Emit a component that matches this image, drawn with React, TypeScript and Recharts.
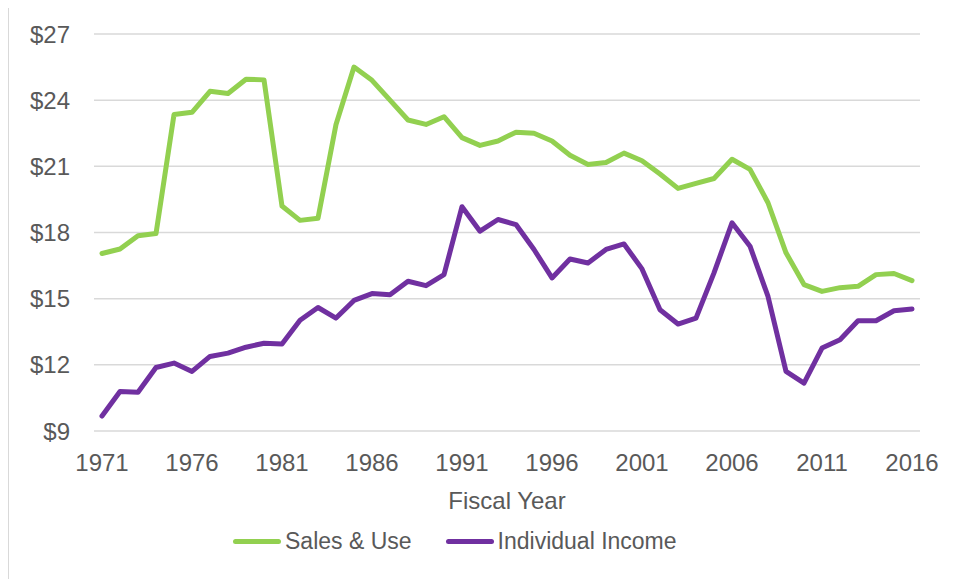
import React from 'react';
import { LineChart, Line, XAxis, YAxis, CartesianGrid, Legend } from 'recharts';

const years = [
  1971, 1972, 1973, 1974, 1975, 1976, 1977, 1978, 1979, 1980,
  1981, 1982, 1983, 1984, 1985, 1986, 1987, 1988, 1989, 1990,
  1991, 1992, 1993, 1994, 1995, 1996, 1997, 1998, 1999, 2000,
  2001, 2002, 2003, 2004, 2005, 2006, 2007, 2008, 2009, 2010,
  2011, 2012, 2013, 2014, 2015, 2016,
];

const salesUse = [
  17.05, 17.25, 17.85, 17.95, 23.35, 23.45, 24.4, 24.3, 24.95, 24.92,
  19.2, 18.55, 18.65, 22.9, 25.5, 24.9, 24.0, 23.1, 22.9, 23.25,
  22.3, 21.95, 22.15, 22.55, 22.5, 22.15, 21.5, 21.08, 21.17, 21.6,
  21.25, 20.65, 20.0, 20.23, 20.45, 21.32, 20.86, 19.35, 17.08, 15.64,
  15.33, 15.5, 15.56, 16.09, 16.14, 15.82,
];

const individualIncome = [
  9.68, 10.79, 10.76, 11.88, 12.08, 11.7, 12.38, 12.53, 12.8, 12.98,
  12.94, 14.02, 14.6, 14.12, 14.92, 15.23, 15.18, 15.79, 15.59, 16.09,
  19.17, 18.06, 18.59, 18.36, 17.23, 15.94, 16.8, 16.62, 17.23, 17.48,
  16.35, 14.5, 13.85, 14.12, 16.17, 18.44, 17.38, 15.1, 11.7, 11.17,
  12.76, 13.14, 14.0, 14.0, 14.45, 14.53,
];

const seriesNames = ['Sales & Use', 'Individual Income'];
const yTicks = [9, 12, 15, 18, 21, 24, 27];

const data = years.map((year, i) => ({
  year,
  sales: salesUse[i],
  income: individualIncome[i],
}));

const FONT = '"Liberation Sans", Arial, sans-serif';
const TEXT = '#595959';

const renderLegend = (props: any) => {
  const items = [...props.payload].sort(
    (a: any, b: any) => seriesNames.indexOf(a.value) - seriesNames.indexOf(b.value)
  );
  return (
    <div style={{ height: 60, paddingTop: 10, paddingLeft: 224, boxSizing: 'border-box', display: 'flex', fontFamily: FONT }}>
      {items.map((entry: any, i: number) => (
        <div key={entry.value} style={{ display: 'flex', alignItems: 'center', height: 24, marginRight: i === 0 ? 34 : 0 }}>
          <span style={{ display: 'inline-block', width: 48, height: 5, borderRadius: 3, background: entry.color, marginRight: 4 }} />
          <span style={{ fontSize: 23, color: TEXT, lineHeight: '24px' }}>{entry.value}</span>
        </div>
      ))}
    </div>
  );
};

const App = () => (
  <div style={{ width: 949, height: 574, border: '1px solid #d9d9d9', marginTop: -4, background: '#fff' }}>
    <LineChart width={949} height={574} data={data} margin={{ top: 29, right: 38, left: 0, bottom: 0 }}>
      <CartesianGrid vertical={false} stroke="#d9d9d9" strokeWidth={1.5} />
      <XAxis
        dataKey="year"
        interval={4}
        axisLine={false}
        tickLine={false}
        tickSize={0}
        tickMargin={23}
        padding={{ left: 8, right: 8 }}
        height={88}
        tick={{ fill: TEXT, fontSize: 24, fontFamily: FONT }}
        label={{ value: 'Fiscal Year', position: 'insideBottom', offset: 10, fill: TEXT, fontSize: 24, fontFamily: FONT }}
      />
      <YAxis
        domain={[9, 27]}
        ticks={yTicks}
        width={85}
        axisLine={false}
        tickLine={false}
        tickSize={0}
        tickMargin={24}
        tickFormatter={(v: number) => `$${v}`}
        tick={{ fill: TEXT, fontSize: 24, fontFamily: FONT }}
      />
      <Legend verticalAlign="bottom" content={renderLegend} />
      <Line
        type="linear"
        dataKey="sales"
        name={seriesNames[0]}
        stroke="#92d050"
        strokeWidth={5}
        strokeLinecap="round"
        strokeLinejoin="round"
        dot={false}
        isAnimationActive={false}
      />
      <Line
        type="linear"
        dataKey="income"
        name={seriesNames[1]}
        stroke="#7030a0"
        strokeWidth={5}
        strokeLinecap="round"
        strokeLinejoin="round"
        dot={false}
        isAnimationActive={false}
      />
    </LineChart>
  </div>
);

export default App;
